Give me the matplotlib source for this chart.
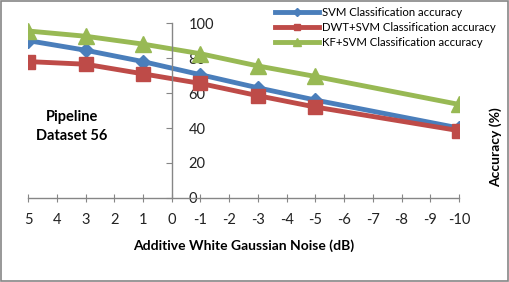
import matplotlib
matplotlib.use("Agg")
from matplotlib import pyplot as plt
from matplotlib.patches import Rectangle

# noise levels (dB) and accuracy values
noise_db = [5, 3, 1, -1, -3, -5, -10]
svm_acc = [90, 84.5, 78, 70.5, 63, 56, 40]
dwt_svm_acc = [78, 76.5, 71, 65.5, 58.5, 52, 38.5]
kf_svm_acc = [95.5, 92.5, 88, 82.5, 75.5, 69.5, 53.5]

x_ticks = list(range(5, -11, -1))
y_ticks = [0, 20, 40, 60, 80, 100]

plt.rcParams['font.family'] = ['Lato', 'DejaVu Sans']

fig = plt.figure(figsize=(5.1, 2.82), dpi=100)
ax = fig.add_axes([0.055, 0.298, 0.845, 0.62])

ax.plot(noise_db, svm_acc, color='#4A7EBB', lw=3.5, marker='D', ms=7.5,
        label='SVM Classification accuracy')
ax.plot(noise_db, dwt_svm_acc, color='#BE4B48', lw=3.5, marker='s', ms=9.5,
        label='DWT+SVM Classification accuracy')
ax.plot(noise_db, kf_svm_acc, color='#98B954', lw=3.5, marker='^', ms=11,
        label='KF+SVM Classification accuracy')

ax.set_xlim(5, -10)
ax.set_ylim(0, 100)
ax.set_xticks(x_ticks)
ax.set_yticks(y_ticks)

# y axis drawn at x = 0, labels to the right of it
ax.spines['left'].set_visible(False)
ax.spines['top'].set_visible(False)
ax.spines['right'].set_position(('data', 0))
ax.spines['bottom'].set_position(('data', 0))
for s in ('right', 'bottom'):
    ax.spines[s].set_color('#868686')
    ax.spines[s].set_linewidth(1)
ax.yaxis.tick_right()
ax.tick_params(axis='y', direction='in', length=4, color='#868686',
               labelsize=10.5, pad=12, labelcolor='#222222')
ax.tick_params(axis='x', direction='inout', length=6, color='#868686',
               labelsize=10.5, pad=8, labelcolor='#222222')
ax.set_xticklabels([str(v) for v in x_ticks])
ax.patch.set_alpha(0)

ax.set_xlabel('Additive White Gaussian Noise (dB)', fontsize=10,
              fontweight='bold', labelpad=9)
fig.text(0.972, 0.48, 'Accuracy (%)', rotation=90, fontsize=10,
         fontweight='bold', ha='center', va='center')
fig.text(0.141, 0.55, 'Pipeline\nDataset 56', fontsize=10.5,
         fontweight='bold', ha='center', va='center', linespacing=1.45)

ax.legend(loc='upper left', bbox_to_anchor=(0.537, 0.978),
          bbox_transform=fig.transFigure, frameon=False, fontsize=8.2,
          handlelength=3.9, handletextpad=0.2, labelspacing=0.32,
          markerscale=0.5, borderaxespad=0, borderpad=0.1)

fig.patches.append(Rectangle((0.002, 0.003), 0.995, 0.993,
                             transform=fig.transFigure, fill=False,
                             edgecolor='#868686', lw=1.2))

fig.savefig('out.png', dpi=100)
